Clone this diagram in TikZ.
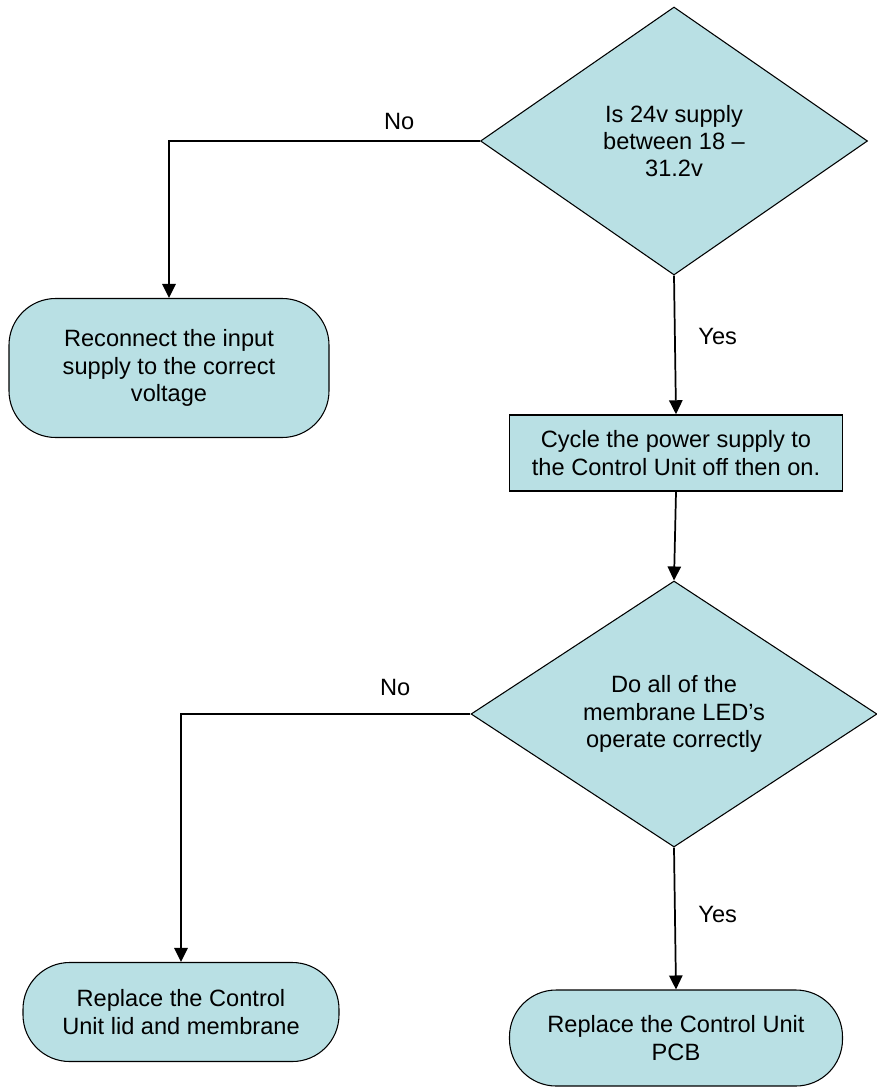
\documentclass[tikz,border=0pt]{standalone}
\usepackage{fontspec}
\setmainfont{Liberation Sans}
\usepackage{tikz}
\usetikzlibrary{shapes.geometric, arrows.meta, positioning}
\definecolor{flowfill}{HTML}{B9E0E4}

\begin{document}
\begin{tikzpicture}[
    x=0.75pt, y=-0.75pt,
    every node/.style={font=\fontsize{17.7}{20.5}\selectfont, align=center},
    decision/.style={diamond, draw, line width=0.8pt, fill=flowfill, inner sep=0pt},
    process/.style={rectangle, draw, line width=1.1pt, fill=flowfill, inner sep=0pt},
    terminal/.style={rectangle, draw, line width=0.8pt, fill=flowfill, rounded corners=35pt, inner sep=0pt},
    lbl/.style={inner sep=0pt, fill=none, draw=none},
    arrow/.style={line width=1.3pt, -{Triangle[length=10.5pt, width=10pt]}}
]
\useasboundingbox (0,0) rectangle (876,1088);

\node (supply) [decision, minimum width=290.25pt, minimum height=201pt] at (674,141)
    {Is 24v supply\\between 18 --\\31.2v};
\node (reconnect) [terminal, minimum width=240pt, minimum height=104.25pt] at (169,368)
    {Reconnect the input\\supply to the correct\\voltage};
\node (cycle) [process, minimum width=249.75pt, minimum height=57pt] at (676,453)
    {Cycle the power supply to\\the Control Unit off then on.};
\node (leds) [decision, minimum width=304.5pt, minimum height=199.5pt] at (674,714)
    {Do all of the\\membrane LED’s\\operate correctly};
\node (lid) [terminal, minimum width=237pt, minimum height=74.25pt] at (181,1012)
    {Replace the Control\\Unit lid and membrane};
\node (pcb) [terminal, minimum width=249.75pt, minimum height=72pt] at (676,1038)
    {Replace the Control Unit\\PCB};

\draw[arrow] (supply.west) -| node[lbl, pos=0.13, above=7.5pt] {No} (reconnect.north);
\draw[arrow] (supply.south) -- node[lbl, pos=0.44, right=17pt] {Yes} (cycle.north);
\draw[arrow] (cycle.south) -- (leds.north);
\draw[arrow] (leds.west) -| node[lbl, pos=0.13, above=13pt] {No} (lid.north);
\draw[arrow] (leds.south) -- node[lbl, pos=0.47, right=17pt] {Yes} (pcb.north);
\end{tikzpicture}
\end{document}
